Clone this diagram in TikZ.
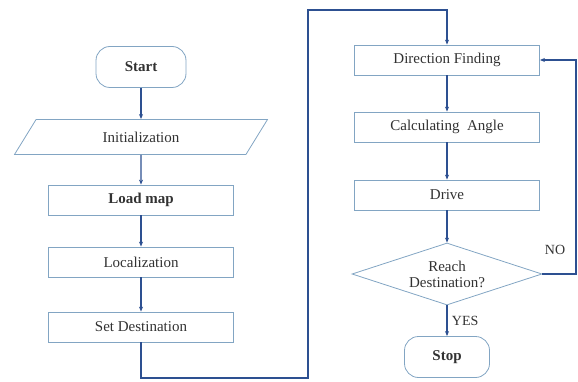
\documentclass[tikz,border=0pt]{standalone}
\usepackage{fontspec}
\setmainfont{Liberation Serif}
\usetikzlibrary{shapes.geometric,arrows.meta}
\definecolor{boxedge}{RGB}{130,165,195}
\definecolor{flowblue}{RGB}{45,80,145}
\definecolor{textgray}{RGB}{50,50,50}
\tikzset{
    stepbox/.style={draw=boxedge, line width=0.8pt, minimum width=\boxwidth, minimum height=\boxheight,
        inner sep=2pt, text=textgray, font=\fontsize{15}{17}\selectfont},
    termbox/.style={stepbox, rounded corners=14pt, minimum width=90pt, minimum height=41pt},
    iobox/.style={stepbox, trapezium, trapezium left angle=34, trapezium right angle=146,
        trapezium stretches body, minimum width=253pt, minimum height=35pt},
    testbox/.style={stepbox, diamond, aspect=3, inner sep=0pt, minimum width=190pt,
        minimum height=62pt, align=center, font=\fontsize{15}{16}\selectfont},
    flow/.style={draw=flowblue, line width=1.3pt, -{Stealth[length=5pt,width=4pt]}},
    answer/.style={text=textgray, font=\fontsize{14}{15}\selectfont}
}
\begin{document}
\begin{tikzpicture}[x=1pt,y=-1pt]
        % Define dimensions
        \def\boxwidth{185pt}
        \def\boxheight{30pt}
        \useasboundingbox (0,0) rectangle (578,382);
        % Left column
        \node[termbox, font=\fontsize{15}{17}\selectfont\bfseries] (start) at (141,67) {Start};
        \node[iobox] (init) at (141,137) {Initialization};
        \node[stepbox, font=\fontsize{15}{17}\selectfont\bfseries] (load) at (141,200) {Load map};
        \node[stepbox] (loc) at (141,262) {Localization};
        \node[stepbox] (setdest) at (141,327) {Set Destination};
        % Right column
        \begin{scope}[every node/.append style={minimum width=181pt, minimum height=36pt}]
            \node[stepbox] (dir) at (447,60) {Direction Finding};
            \node[stepbox] (calc) at (447,127) {Calculating~ Angle};
            \node[stepbox] (drive) at (447,195) {Drive};
        \end{scope}
        \node[testbox] (reach) at (447,274) {Reach\\Destination?};
        \node[termbox, minimum width=85pt, font=\fontsize{15}{17}\selectfont\bfseries] (stop) at (447,357) {Stop};
        % Bend points
        \coordinate (bendA) at (308,378);
        \coordinate (bendB) at (308,10);
        \coordinate (bendC) at (576,274);
        % Connectors
        \draw[flow] (start) -- (init);
        \draw[flow] (init) -- (load);
        \draw[flow] (load) -- (loc);
        \draw[flow] (loc) -- (setdest);
        \draw[flow] (setdest.south) |- (bendA) -- (bendB) -| (dir.north);
        \draw[flow] (dir) -- (calc);
        \draw[flow] (calc) -- (drive);
        \draw[flow] (drive) -- (reach);
        \draw[flow] (reach) -- (stop) node[answer, midway, right, xshift=1pt] (yes) {YES};
        \draw[flow] (reach.east) -- (bendC) |- (dir.east);
        \node[answer] (no) at (555,250) {NO};
    \end{tikzpicture}
\end{document}
